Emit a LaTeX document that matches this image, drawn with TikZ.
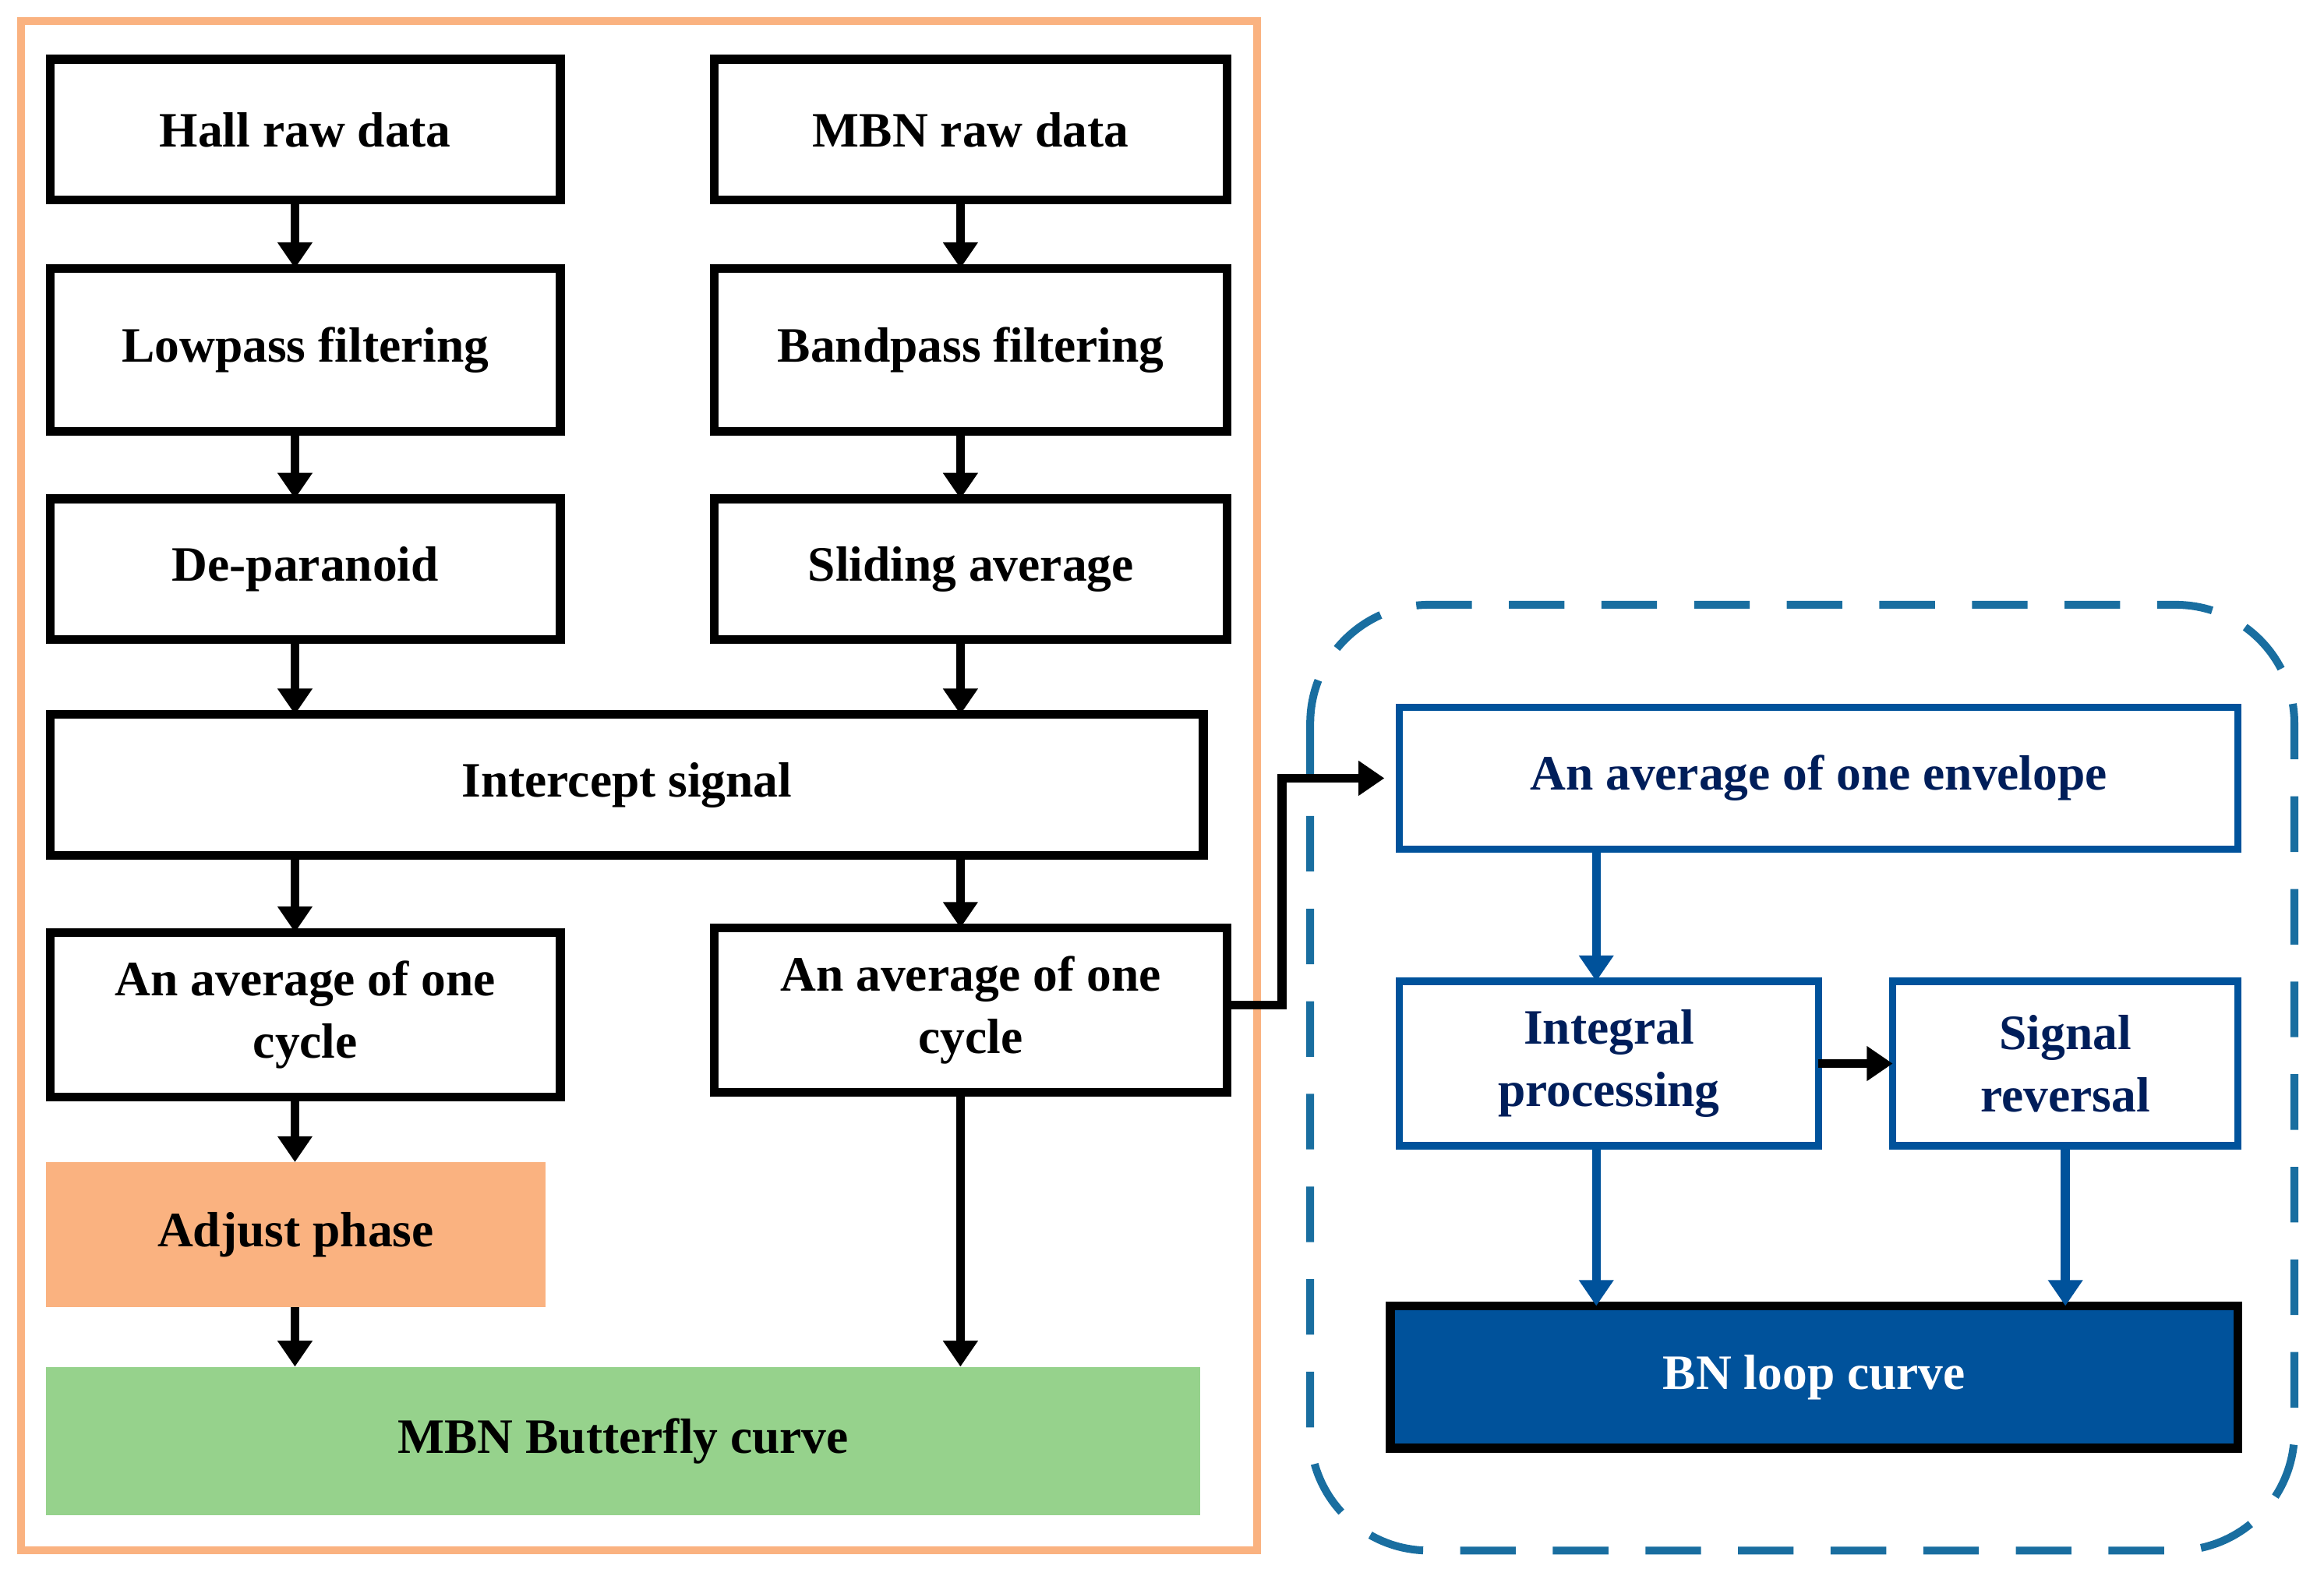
\documentclass[tikz,border=0pt]{standalone}
\usepackage{fontspec}
\setmainfont{Liberation Serif}
\usetikzlibrary{positioning,arrows.meta}
\definecolor{frameorange}{RGB}{250,178,128}
\definecolor{phaseorange}{RGB}{250,178,128}
\definecolor{curvegreen}{RGB}{150,210,140}
\definecolor{dashblue}{RGB}{25,110,160}
\definecolor{boxblue}{RGB}{0,82,155}
\definecolor{textnavy}{RGB}{0,30,90}

\begin{document}
\begin{tikzpicture}
[x=0.02cm,y=-0.02cm,
 every node/.style={inner sep=0mm,outer sep=0mm,align=center,font=\fontsize{19}{24}\selectfont\bfseries},
 blk/.style={rectangle,draw=black,line width=3.4pt,minimum height=1.9cm},
 blu/.style={rectangle,draw=boxblue,line width=2.8pt,text=textnavy,minimum height=1.92cm},
 fil/.style={rectangle,minimum height=2cm},
 arr/.style={line width=3.4pt,-{Triangle[length=3.5mm,width=4.5mm]}},
 barr/.style={arr,color=boxblue}]
\useasboundingbox (0,0) rectangle (1568,1063);
\draw[frameorange,line width=3pt] (14,14) rectangle (848,1046);
\draw[dashblue,line width=3pt,dash pattern=on 7.5mm off 5mm,rounded corners=1.6cm] (884,408) rectangle (1548,1046);
\coordinate (colL) at (199,0);
\coordinate (colR) at (648,0);
\coordinate (colB) at (1077,0);
% left column
\node[blk,minimum width=6.88cm] (hall)  at (206,87.5) {Hall raw data};
\node[blk,minimum width=6.88cm,minimum height=2.2cm] (low) at (206,236) {Lowpass filtering};
\node[blk,minimum width=6.88cm] (depar) at (206,384) {De-paranoid};
\node[blk,minimum width=6.88cm,minimum height=2.22cm] (avgL) at (206,684.5) {An average of one\\cycle};
\node[fil,fill=phaseorange,minimum width=6.74cm,minimum height=1.96cm] (adj) at (199.5,833) {Adjust phase};
% right column
\node[blk,minimum width=6.92cm] (mbn)   at (655,87.5) {MBN raw data};
\node[blk,minimum width=6.92cm,minimum height=2.2cm] (band) at (655,236) {Bandpass filtering};
\node[blk,minimum width=6.92cm] (slide) at (655,384) {Sliding average};
\node[blk,minimum width=6.92cm,minimum height=2.22cm] (avgR) at (655,681.5) {An average of one\\cycle};
% wide boxes
\node[blk,minimum width=15.56cm] (inter) at (423,529.5) {Intercept signal};
\node[fil,fill=curvegreen,minimum width=15.58cm] (fly) at (420.5,972) {MBN Butterfly curve};
% blue part
\node[blu,minimum width=11.32cm] (env) at (1227,525) {An average of one envelope};
\node[blu,minimum width=5.66cm,minimum height=2.22cm] (integ) at (1085.5,717.5) {Integral\\processing};
\node[blu,minimum width=4.66cm,minimum height=2.22cm] (rev) at (1393.5,717.5) {Signal\\reversal};
\node[blk,fill=boxblue,text=white,minimum width=11.44cm,minimum height=1.92cm] (loop) at (1224,929) {BN loop curve};
\coordinate (bend) at (865,678);
% arrows
\draw[arr] (hall.south -| colL) -- (low.north -| colL);
\draw[arr] (low.south -| colL) -- (depar.north -| colL);
\draw[arr] (depar.south -| colL) -- (inter.north -| colL);
\draw[arr] (inter.south -| colL) -- (avgL.north -| colL);
\draw[arr] (avgL.south -| colL) -- (adj.north -| colL);
\draw[arr] (adj.south -| colL) -- (fly.north -| colL);
\draw[arr] (mbn.south -| colR) -- (band.north -| colR);
\draw[arr] (band.south -| colR) -- (slide.north -| colR);
\draw[arr] (slide.south -| colR) -- (inter.north -| colR);
\draw[arr] (inter.south -| colR) -- (avgR.north -| colR);
\draw[arr] (avgR.south -| colR) -- (fly.north -| colR);
\draw[arr] (avgR.east |- bend) -- (bend) |- ([xshift=-0.2cm]env.west);
\draw[barr] (env.south -| colB) -- (integ.north -| colB);
\draw[arr] (integ) -- (rev);
\draw[barr] (integ.south -| colB) -- (loop.north -| colB);
\draw[barr] (rev.south) -- (loop.north -| rev);
\end{tikzpicture}
\end{document}
